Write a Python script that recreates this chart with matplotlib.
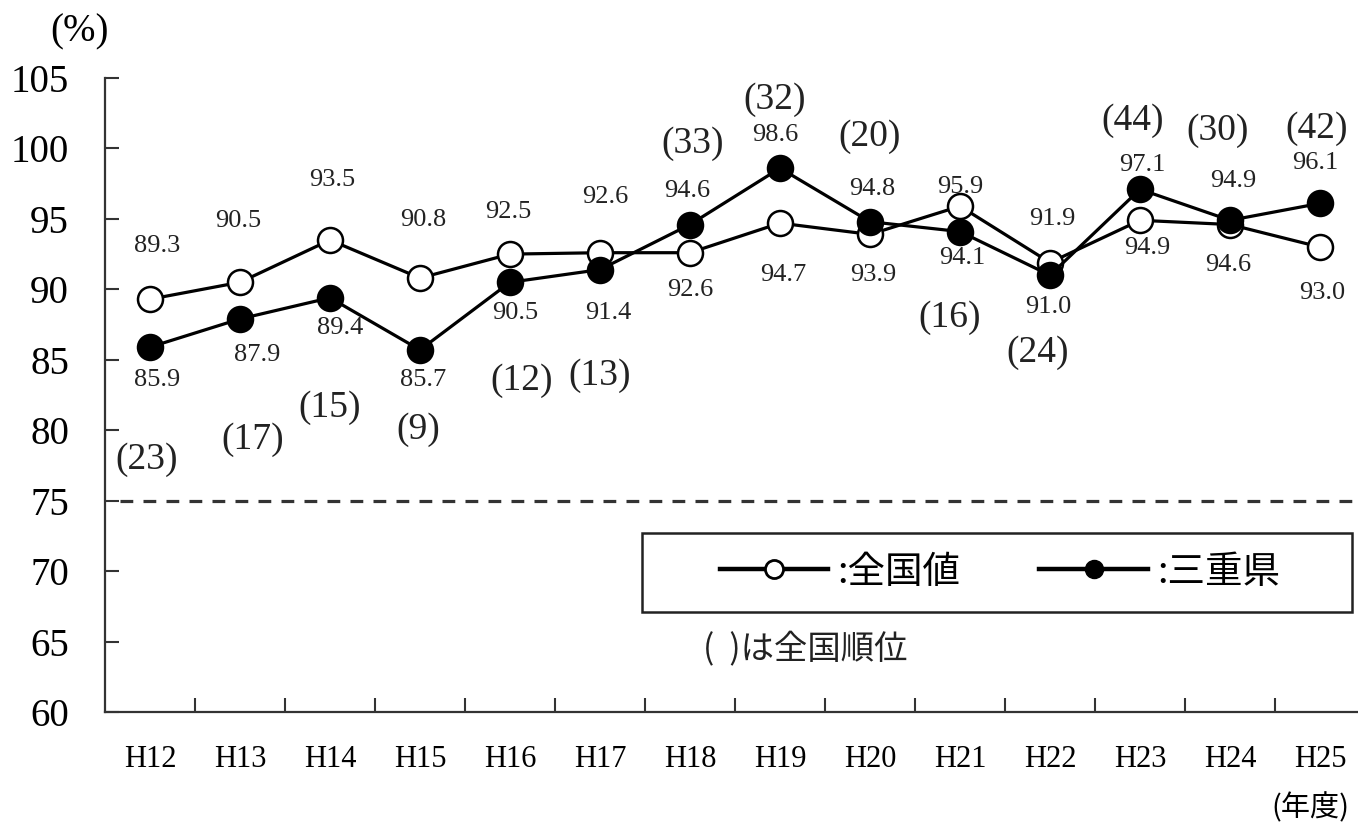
import matplotlib
matplotlib.use("Agg")
import matplotlib.pyplot as plt
from matplotlib.lines import Line2D
from matplotlib.patches import Rectangle

plt.rcParams['font.family'] = ['Liberation Serif', 'Noto Sans CJK JP', 'DejaVu Sans']

# データ
years = ["H12", "H13", "H14", "H15", "H16", "H17", "H18",
         "H19", "H20", "H21", "H22", "H23", "H24", "H25"]
national = [89.3, 90.5, 93.5, 90.8, 92.5, 92.6, 92.6,
            94.7, 93.9, 95.9, 91.9, 94.9, 94.6, 93.0]
mie = [85.9, 87.9, 89.4, 85.7, 90.5, 91.4, 94.6,
       98.6, 94.8, 94.1, 91.0, 97.1, 94.9, 96.1]
ranks = [23, 17, 15, 9, 12, 13, 33, 32, 20, 16, 24, 44, 30, 42]
ref_level = 75

# ラベル位置 (pixel offset)
nat_off = [(7, 53), (-2, 61), (2, 60), (3, 58), (-2, 42), (5, 56), (0, -37),
           (3, -52), (3, -41), (0, 19), (2, 44), (7, -28), (-2, -40), (2, -46)]
mie_off = [(7, -33), (17, -36), (10, -30), (3, -30), (5, -31), (8, -43), (-3, 34),
           (-5, 33), (2, 33), (2, -26), (-2, -32), (2, 24), (3, 39), (-5, 40)]
rank_off = [(-3, -113), (13, -121), (0, -110), (-2, -80), (12, -98), (0, -106), (3, 81),
            (-5, 68), (0, 85), (-10, -86), (-12, -77), (-7, 69), (-12, 90), (-3, 75)]

W, H = 1358, 827
fig = plt.figure(figsize=(W / 100, H / 100), dpi=100)
ax = fig.add_axes([105 / W, 1 - 712 / H, 1260 / W, 634 / H])

x = list(range(len(years)))
line_kw = dict(color='black', lw=2.3, markersize=18, markeredgewidth=1.8,
               markeredgecolor='black', marker='o')
ax.plot(x, national, markerfacecolor='white', zorder=3, **line_kw)
ax.plot(x, mie, markerfacecolor='black', zorder=4, **line_kw)

ax.hlines(ref_level, -0.33, 13.35, colors='#333333', linestyles=(0, (4, 3.2)), lw=2.3)

for i in x:
    ax.annotate(f"{national[i]:.1f}", (i, national[i]), xytext=nat_off[i],
                textcoords='offset pixels', ha='center', va='center',
                fontsize=19, color='#222222')
    ax.annotate(f"{mie[i]:.1f}", (i, mie[i]), xytext=mie_off[i],
                textcoords='offset pixels', ha='center', va='center',
                fontsize=19, color='#222222')
    ax.annotate(f"({ranks[i]})", (i, mie[i]), xytext=rank_off[i],
                textcoords='offset pixels', ha='center', va='center',
                fontsize=27, color='#222222')

ax.set_xlim(-0.5, 13.5)
ax.set_ylim(60, 105)
ax.set_yticks(range(60, 106, 5))
ax.set_xticks([i + 0.5 for i in range(14)])
ax.set_xticklabels([])
ax.set_xticks(x, minor=True)
ax.set_xticklabels(years, minor=True)
ax.tick_params(axis='x', which='major', direction='in', length=10, width=1.5, color='#333333')
ax.tick_params(axis='x', which='minor', length=0, pad=24, labelsize=22)
ax.tick_params(axis='y', direction='in', length=10, width=1.5, color='#333333',
               pad=26, labelsize=28)
for s in ['top', 'right']:
    ax.spines[s].set_visible(False)
for s in ['left', 'bottom']:
    ax.spines[s].set_linewidth(1.6)
    ax.spines[s].set_color('#333333')

# 凡例
fig.add_artist(Rectangle((642 / W, 1 - 612 / H), 710 / W, 79 / H,
                         transform=fig.transFigure, fill=False,
                         edgecolor='#222222', lw=1.8))
handles = [
    Line2D([], [], color='black', lw=3.2, marker='o', markersize=13,
           markerfacecolor='white', markeredgecolor='black', markeredgewidth=2),
    Line2D([], [], color='black', lw=3.2, marker='o', markersize=13,
           markerfacecolor='black', markeredgecolor='black'),
]
fig.legend(handles, [':全国値', ':三重県'], loc='center',
           bbox_to_anchor=(1000 / W, 1 - 572 / H), ncol=2, frameon=False,
           prop={'family': ['Noto Sans CJK JP'], 'size': 27},
           handlelength=2.9, handletextpad=0.25, columnspacing=2.1)

fig.text(703 / W, 1 - 650 / H, '(  )は全国順位', fontsize=24,
         family=['Noto Sans CJK JP'], ha='left', va='center', color='#222222')
fig.text(80 / W, 1 - 32 / H, '(%)', fontsize=28, ha='center', va='center')
fig.text(1310 / W, 1 - 808 / H, '(年度)', fontsize=21, ha='center', va='center',
         family=['Noto Sans CJK JP'])

fig.savefig('out.png', dpi=100)
